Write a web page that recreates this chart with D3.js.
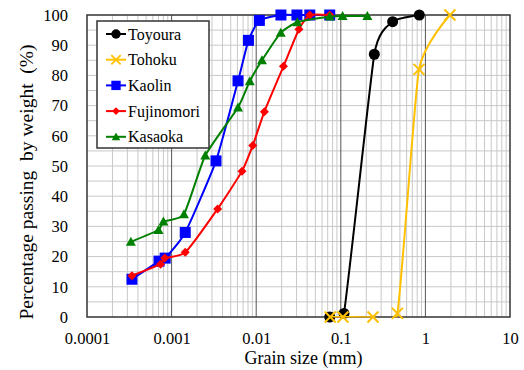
<!DOCTYPE html>
<html>
<head>
<meta charset="utf-8">
<script src="https://cdn.jsdelivr.net/npm/d3@7"></script>
<style>
  body { margin: 0; background: #fff; }
</style>
</head>
<body>
<div id="chart"></div>
<script>
// tick labels
const xTicks = [0.0001, 0.001, 0.01, 0.1, 1, 10];
const yTicks = [0, 10, 20, 30, 40, 50, 60, 70, 80, 90, 100];

// series: grain size (mm) and percentage passing (%)
const seriesNames = ["Toyoura", "Tohoku", "Kaolin", "Fujinomori", "Kasaoka"];
const toyouraSize = [0.074, 0.109, 0.249, 0.41, 0.847];
const toyouraPass = [0, 1.2, 87, 97.8, 100];
const tohokuSize = [0.075, 0.106, 0.24, 0.466, 0.84, 1.95];
const tohokuPass = [0, 0, 0, 1.2, 82, 100];
const kaolinSize = [0.00034, 0.00071, 0.00084, 0.00145, 0.00335, 0.0061, 0.0081, 0.0109, 0.0196, 0.0303, 0.043, 0.074];
const kaolinPass = [12.5, 18.5, 19.5, 28, 51.7, 78.2, 91.6, 98.2, 100, 100, 100, 100];
const fujinomoriSize = [0.00034, 0.00074, 0.00083, 0.00145, 0.0035, 0.0068, 0.0091, 0.0125, 0.021, 0.032, 0.043, 0.074];
const fujinomoriPass = [13.7, 17.5, 19.5, 21.4, 35.8, 48.3, 56.8, 68, 83, 95.3, 100, 100];
const kasaokaSize = [0.00033, 0.0007, 0.0008, 0.0014, 0.0025, 0.0061, 0.0084, 0.0117, 0.0195, 0.0306, 0.074, 0.105, 0.206];
const kasaokaPass = [24.9, 28.8, 31.6, 34, 53.5, 69.4, 78.1, 85, 94.1, 97.6, 99.5, 99.7, 99.7];

const W = 524, H = 370;
const margin = { top: 15, right: 14, bottom: 53, left: 87 };
const width = W - margin.left - margin.right,
      height = H - margin.top - margin.bottom;
const serif = "Liberation Serif, Times New Roman, serif";

const svg = d3.select("#chart").append("svg")
  .attr("width", W).attr("height", H)
  .attr("font-family", serif);
const g = svg.append("g")
  .attr("transform", "translate(" + margin.left + "," + margin.top + ")");

svg.append("defs").append("clipPath").attr("id", "plot")
  .append("rect").attr("x", -8).attr("y", -8)
  .attr("width", width + 16).attr("height", height + 8.5);

const x = d3.scaleLog().domain([0.0001, 10]).range([0, width]);
const y = d3.scaleLinear().domain([0, 100]).range([height, 0]);

// grid
const minor = [];
xTicks.slice(0, -1).forEach(d => { for (let k = 2; k <= 9; k++) minor.push(d * k); });
g.append("g").selectAll("line").data(minor).enter().append("line")
  .attr("x1", d => x(d)).attr("x2", d => x(d))
  .attr("y1", 0).attr("y2", height)
  .attr("stroke", "#c8c8c8").attr("stroke-width", 1);
g.append("g").selectAll("line").data(d3.range(5, 100, 5)).enter().append("line")
  .attr("x1", 0).attr("x2", width)
  .attr("y1", d => y(d)).attr("y2", d => y(d))
  .attr("stroke", "#c8c8c8").attr("stroke-width", 1);
g.append("g").selectAll("line").data(xTicks.slice(1, -1)).enter().append("line")
  .attr("x1", d => x(d)).attr("x2", d => x(d))
  .attr("y1", 0).attr("y2", height)
  .attr("stroke", "#555").attr("stroke-width", 1);

// frame
g.append("rect").attr("width", width).attr("height", height)
  .attr("fill", "none").attr("stroke", "#333").attr("stroke-width", 1.5);

// axes
const xAxis = g.append("g").attr("transform", "translate(0," + height + ")")
  .call(d3.axisBottom(x).tickValues(xTicks).tickSize(0).tickPadding(15).tickFormat(d => String(d)));
const yAxis = g.append("g")
  .call(d3.axisLeft(y).tickValues(yTicks).tickSize(0).tickPadding(19));
[xAxis, yAxis].forEach(a => {
  a.attr("font-family", serif).attr("font-size", 16.5);
  a.select(".domain").remove();
});

svg.append("text")
  .attr("x", margin.left + width / 2 + 5).attr("y", 364)
  .attr("text-anchor", "middle").attr("font-size", 18)
  .text("Grain size (mm)");
svg.append("text")
  .attr("transform", "translate(33,182) rotate(-90)")
  .attr("text-anchor", "middle").attr("font-size", 19.5)
  .style("white-space", "pre")
  .text("Percentage passing  by weight  (%)");

// series
const colors = ["#000000", "#FFC000", "#0000FF", "#FF0000", "#008000"];
const data = [
  d3.zip(toyouraSize, toyouraPass),
  d3.zip(tohokuSize, tohokuPass),
  d3.zip(kaolinSize, kaolinPass),
  d3.zip(fujinomoriSize, fujinomoriPass),
  d3.zip(kasaokaSize, kasaokaPass)
];
const line = d3.line()
  .x(d => x(d[0])).y(d => y(d[1]))
  .curve(d3.curveCardinal.tension(0.5));

function marker(sel, i, c) {
  if (i === 0) sel.append("circle").attr("r", 5.5).attr("fill", c);
  else if (i === 1) sel.append("path").attr("d", "M-5.5,-5.5L5.5,5.5M-5.5,5.5L5.5,-5.5")
    .attr("stroke", c).attr("stroke-width", 2).attr("fill", "none");
  else if (i === 2) sel.append("rect").attr("x", -5.5).attr("y", -5.5).attr("width", 11).attr("height", 11).attr("fill", c);
  else if (i === 3) sel.append("path").attr("d", "M0,-4.5L4.5,0L0,4.5L-4.5,0Z").attr("fill", c);
  else sel.append("path").attr("d", "M0,-5L5,4L-5,4Z").attr("fill", c);
}

data.forEach((pts, i) => {
  const c = colors[i];
  g.append("path").datum(pts)
    .attr("clip-path", "url(#plot)")
    .attr("fill", "none").attr("stroke", c).attr("stroke-width", 2)
    .attr("d", line);
  g.append("g").selectAll("g").data(pts).enter().append("g")
    .attr("transform", d => "translate(" + x(d[0]) + "," + y(d[1]) + ")")
    .each(function () { marker(d3.select(this), i, c); });
});

// legend
const lg = svg.append("g").attr("transform", "translate(97,21)");
lg.append("rect").attr("width", 112).attr("height", 127)
  .attr("fill", "#fff").attr("stroke", "#333").attr("stroke-width", 1.5);
seriesNames.forEach((name, i) => {
  const row = lg.append("g").attr("transform", "translate(0," + (13 + i * 25.7) + ")");
  row.append("line").attr("x1", 9).attr("x2", 29).attr("y1", 0).attr("y2", 0)
    .attr("stroke", colors[i]).attr("stroke-width", 2);
  const m = row.append("g").attr("transform", "translate(19,0) scale(0.85)");
  marker(m, i, colors[i]);
  row.append("text").attr("x", 31).attr("y", 5.5)
    .attr("font-size", 16).text(name);
});
</script>
</body>
</html>
